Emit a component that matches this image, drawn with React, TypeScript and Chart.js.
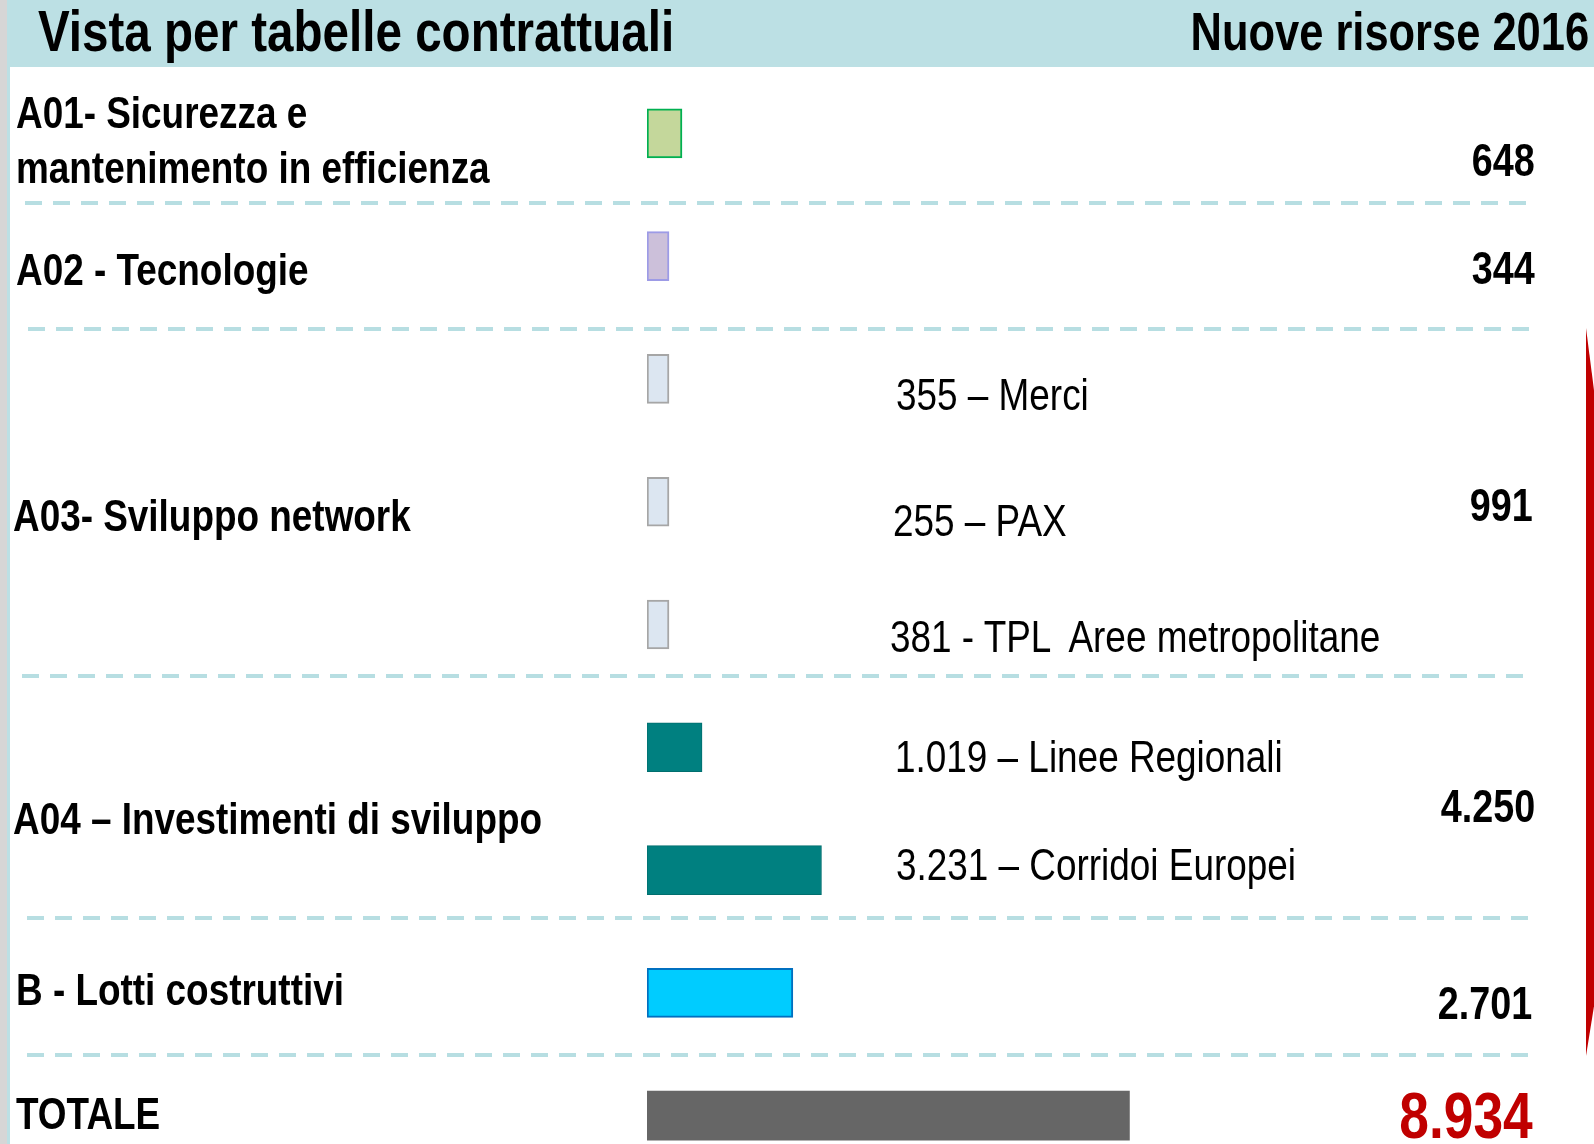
import React, { useEffect, useRef } from "react";
import { Chart, registerables } from "chart.js";

Chart.register(...registerables);

// ---- data ----
const categories = [
  "A01",
  "A02",
  "A03 Merci",
  "A03 PAX",
  "A03 TPL",
  "A04 Linee Regionali",
  "A04 Corridoi Europei",
  "B",
  "TOTALE",
];
const values = [648, 344, 355, 255, 381, 1019, 3231, 2701, 8934];
const subLabels = [
  "",
  "",
  "355 – Merci",
  "255 – PAX",
  "381 - TPL  Aree metropolitane",
  "1.019 – Linee Regionali",
  "3.231 – Corridoi Europei",
  "",
  "",
];
const sectionNames = [
  ["A01- Sicurezza e", "mantenimento in efficienza"],
  ["A02 - Tecnologie"],
  ["A03- Sviluppo network"],
  ["A04 – Investimenti di sviluppo"],
  ["B - Lotti costruttivi"],
  ["TOTALE"],
];
const sectionTotals = ["648", "344", "991", "4.250", "2.701", "8.934"];
const titleLeft = "Vista per tabelle contrattuali";
const titleRight = "Nuove risorse 2016";

// ---- styles ----
const fills = ["#C4D79B", "#CCC0DA", "#DCE6F1", "#DCE6F1", "#DCE6F1", "#008080", "#008080", "#00CCFF", "#666666"];
const borders = ["#00B050", "#9D9BE6", "#A6A6A6", "#A6A6A6", "#A6A6A6", "#006E6E", "#006E6E", "#0070C0", "#666666"];
const borderWidths = [2, 2, 2, 2, 2, 1, 1, 2, 0];

const FONT = '"Liberation Sans", Arial, sans-serif';
const NARROW_SCALE = 0.82;
const W = 1594;
const H = 1144;
const PX_PER_UNIT = 0.054;
const BAR_LEFT = 647;

type TProps = {
  text: string;
  x: number;
  cy: number;
  size: number;
  bold?: boolean;
  align?: "left" | "right";
  color?: string;
};

function T({ text, x, cy, size, bold, align = "left", color = "#000" }: TProps) {
  const style: React.CSSProperties = {
    position: "absolute",
    top: cy,
    transform: `translateY(-50%) scaleX(${NARROW_SCALE})`,
    transformOrigin: align === "left" ? "left center" : "right center",
    fontFamily: FONT,
    fontSize: size,
    fontWeight: bold ? 700 : 400,
    lineHeight: 1,
    whiteSpace: "pre",
    color,
  };
  if (align === "left") style.left = x;
  else style.right = W - x;
  return <div style={style}>{text}</div>;
}

function BarChart() {
  const ref = useRef<HTMLCanvasElement | null>(null);
  useEffect(() => {
    if (!ref.current) return;
    const chart = new Chart(ref.current, {
      type: "bar",
      data: {
        labels: categories,
        datasets: [
          {
            data: values,
            backgroundColor: fills,
            borderColor: borders,
            borderWidth: borderWidths,
            borderSkipped: false,
            barThickness: 49,
            minBarLength: 22,
          },
        ],
      },
      options: {
        indexAxis: "y",
        responsive: false,
        animation: false,
        layout: { padding: { left: BAR_LEFT, top: 72, right: 0, bottom: 0 } },
        plugins: { legend: { display: false }, tooltip: { enabled: false }, title: { display: false } },
        scales: {
          x: { display: false, min: 0, max: (W - BAR_LEFT) / PX_PER_UNIT },
          y: { display: false, offset: true },
        },
      },
    });
    return () => chart.destroy();
  }, []);
  return (
    <canvas
      ref={ref}
      width={W}
      height={1177}
      style={{ position: "absolute", left: 0, top: 0, width: W, height: 1177 }}
    />
  );
}

const dashYs = [203, 329, 676, 918, 1055];
const dashX = [
  [25, 1527],
  [28, 1530],
  [22, 1523],
  [27, 1530],
  [27, 1530],
];

export default function App() {
  const sectionY = [112, 269, 515, 818, 989, 1113];
  const sectionX = [16, 16, 13, 13, 16, 16];
  const totalY = [160, 268, 505, 806, 1003, 1115];
  const totalX = [1535, 1535, 1533, 1535, 1532, 1533];
  const subY = [0, 0, 394, 520, 636, 756, 864, 0, 0];
  const subX = [0, 0, 896, 893, 890, 895, 896, 0, 0];
  return (
    <div
      style={{
        position: "absolute",
        left: 0,
        top: 0,
        width: W,
        height: H,
        overflow: "hidden",
        background: "#FFFFFF",
      }}
    >
      {/* left strip */}
      <div style={{ position: "absolute", left: 0, top: 0, width: 7, height: H, background: "#D6D6D6" }} />
      <div style={{ position: "absolute", left: 7, top: 0, width: 3, height: H, background: "#BCE0E4" }} />
      {/* header band */}
      <div style={{ position: "absolute", left: 7, top: 0, width: W - 7, height: 67, background: "#BCE0E4" }} />
      <T text={titleLeft} x={38} cy={31} size={58} bold />
      <T text={titleRight} x={1589} cy={31} size={53} bold align="right" />

      {/* dashed separators */}
      <svg width={W} height={H} style={{ position: "absolute", left: 0, top: 0 }}>
        {dashYs.map((y, i) => (
          <line
            key={i}
            x1={dashX[i][0]}
            x2={dashX[i][1]}
            y1={y}
            y2={y}
            stroke="#B7DEE2"
            strokeWidth={4}
            strokeDasharray="17 11"
          />
        ))}
        <polygon points="1586,328 1595,398 1595,1000 1586,1056" fill="#C00000" />
      </svg>

      <BarChart />

      {sectionNames.map((lines, i) =>
        lines.length === 2 ? (
          <React.Fragment key={i}>
            <T text={lines[0]} x={sectionX[i]} cy={sectionY[i]} size={45} bold />
            <T text={lines[1]} x={sectionX[i]} cy={sectionY[i] + 55} size={45} bold />
          </React.Fragment>
        ) : (
          <T key={i} text={lines[0]} x={sectionX[i]} cy={sectionY[i]} size={45} bold />
        )
      )}
      {sectionTotals.map((t, i) => (
        <T
          key={"t" + i}
          text={t}
          x={totalX[i]}
          cy={totalY[i]}
          size={i === 5 ? 65 : 46}
          bold
          align="right"
          color={i === 5 ? "#C00000" : "#000"}
        />
      ))}
      {subLabels.map((s, i) =>
        s ? <T key={"s" + i} text={s} x={subX[i]} cy={subY[i]} size={45} /> : null
      )}
    </div>
  );
}
